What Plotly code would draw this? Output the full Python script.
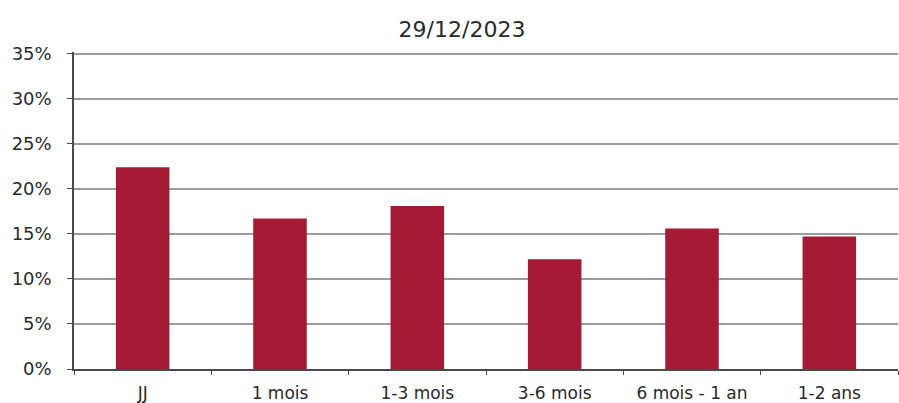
import plotly.graph_objects as go

# Maturity buckets and their share of the portfolio (%)
categories = ["JJ", "1 mois", "1-3 mois", "3-6 mois", "6 mois - 1 an", "1-2 ans"]
shares = [22.4, 16.7, 18.1, 12.2, 15.6, 14.7]
y_ticks = [0, 5, 10, 15, 20, 25, 30, 35]
Y_MAX = 35.2

BAR_COLOR = "#A51B35"
FONT = "DejaVu Sans"
TEXT_COLOR = "#2a2a2a"

fig = go.Figure(
    go.Bar(
        x=categories,
        y=shares,
        marker=dict(color=BAR_COLOR, line=dict(width=0)),
        width=0.39,
    )
)

fig.update_layout(
    width=899,
    height=403,
    margin=dict(l=74, r=1, t=52, b=34),
    paper_bgcolor="white",
    plot_bgcolor="white",
    showlegend=False,
    font=dict(family=FONT, size=17, color=TEXT_COLOR),
    title=dict(
        text="29/12/2023",
        x=(462 - 74) / 824,
        xref="paper",
        xanchor="center",
        y=1 - 29 / 403,
        yref="container",
        yanchor="middle",
        font=dict(family=FONT, size=22, color=TEXT_COLOR),
    ),
)

fig.update_xaxes(
    type="category",
    range=[-0.5, len(categories) - 0.5],
    showgrid=False,
    showline=True,
    linecolor="#4a4a4a",
    linewidth=1.5,
    ticks="outside",
    tickson="boundaries",
    ticklen=4,
    tickwidth=1.3,
    tickcolor="#4a4a4a",
    ticklabelstandoff=8,
    tickfont=dict(family=FONT, size=17, color=TEXT_COLOR),
)

# Headroom above 35 keeps the top gridline inside the plot area
fig.update_yaxes(
    range=[0, Y_MAX],
    tickvals=y_ticks,
    ticktext=[f"{v}%" for v in y_ticks],
    showgrid=True,
    gridcolor="#9c9c9c",
    gridwidth=1.6,
    zeroline=False,
    showline=True,
    linecolor="#4a4a4a",
    linewidth=1.5,
    ticks="outside",
    ticklen=5,
    tickwidth=1.3,
    tickcolor="#4a4a4a",
    ticklabelstandoff=12,
    tickfont=dict(family=FONT, size=18, color=TEXT_COLOR),
)

fig.write_html("out.html")
